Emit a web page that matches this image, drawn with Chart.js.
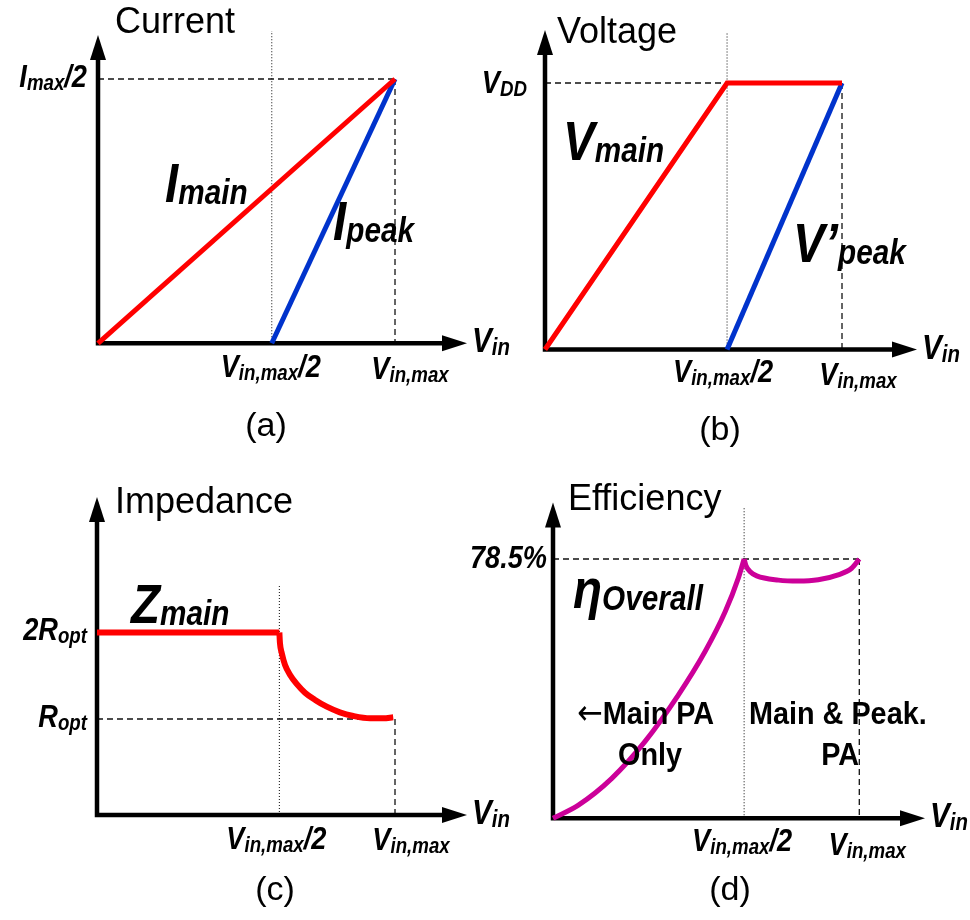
<!DOCTYPE html>
<html>
<head>
<meta charset="utf-8">
<title>Doherty PA operation</title>
<script src="https://cdn.jsdelivr.net/npm/chart.js@4.4.1/dist/chart.umd.min.js"></script>
<style>
  html, body { margin: 0; padding: 0; background: #fff; }
  #wrap { position: relative; width: 970px; height: 920px; }
  #wrap canvas { position: absolute; left: 0; top: 0; }
</style>
</head>
<body>
<div id="wrap">
  <canvas id="chartA" width="970" height="920"></canvas>
  <canvas id="chartB" width="970" height="920"></canvas>
  <canvas id="chartC" width="970" height="920"></canvas>
  <canvas id="chartD" width="970" height="920"></canvas>
</div>
<script>
// ---------- data (x in units of Vin,max) ----------
// (a) current
const vinTicksA = [0.585, 1];
const curTicksA = [1];                       // Imax/2
const iMainX = [0, 1],     iMainY = [0, 1];
const iPeakX = [0.585, 1], iPeakY = [0, 1];

// (b) voltage
const vinTicksB = [0.613, 1];
const voltTicksB = [1];                      // VDD
const vMainX = [0, 0.613, 1], vMainY = [0, 1, 1];
const vPeakX = [0.613, 1],    vPeakY = [0, 1];

// (c) impedance (units of Ropt)
const vinTicksC = [0.612, 1];
const impTicksC = [2, 1];
const zFlatX = [0, 0.612], zFlatY = [2, 2];
const zDropX = [0.612, 0.614, 0.620, 0.631, 0.648, 0.670, 0.698, 0.732, 0.771, 0.815, 0.860, 0.916, 0.961, 0.994];
const zDropY = [2.0, 1.875, 1.760, 1.624, 1.509, 1.405, 1.304, 1.220, 1.142, 1.077, 1.035, 1.008, 1.008, 1.020];

// (d) efficiency (%)
const vinTicksD = [0.624, 1];
const effTicksD = [78.5];
const effLowX  = [0, 0.083, 0.192, 0.300, 0.409, 0.496, 0.562, 0.605, 0.624];
const effLowY  = [0, 4.0, 12.1, 23.2, 37.3, 50.4, 62.5, 72.7, 78.5];
const effHighX = [0.624, 0.630, 0.643, 0.665, 0.736, 0.801, 0.866, 0.931, 0.975, 1.0];
const effHighY = [78.5, 76.5, 74.7, 73.4, 72.1, 71.8, 72.2, 73.7, 75.7, 78.5];

// tick label text ( _{..} = subscript, ^{..} = light symbol )
const vinTickLabels = ['V_{in,max}/2', 'V_{in,max}'];
const curTickLabels = ['I_{max}/2'];
const voltTickLabels = ['V_{DD}'];
const impTickLabels = ['2R_{opt}', 'R_{opt}'];
const effTickLabels = ['78.5%'];

// ---------- helpers ----------
const FAMILY = '"Liberation Sans", Arial, Helvetica, sans-serif';
const pts = (xs, ys) => xs.map((x, i) => ({ x, y: ys[i] }));

function parseRich(s) {
  const parts = [];
  const re = /(_|\^)\{([^}]*)\}/g;
  let last = 0, m;
  while ((m = re.exec(s))) {
    if (m.index > last) parts.push({ t: s.slice(last, m.index), kind: 'main' });
    parts.push({ t: m[2], kind: m[1] === '_' ? 'sub' : 'light' });
    last = re.lastIndex;
  }
  if (last < s.length) parts.push({ t: s.slice(last), kind: 'main' });
  return parts;
}

function fontFor(st, kind) {
  if (kind === 'sub') return `${st.style} ${st.weight} ${st.sub}px ${FAMILY}`;
  if (kind === 'light') return `normal normal ${st.size + 2}px "DejaVu Sans", ${FAMILY}`;
  return `${st.style} ${st.weight} ${st.size}px ${FAMILY}`;
}

function drawRich(ctx, s, x, y, st, align) {
  const parts = parseRich(s);
  let w = 0;
  parts.forEach(p => { ctx.font = fontFor(st, p.kind); p.w = ctx.measureText(p.t).width; w += p.w; });
  const sx = st.sx || 1;
  const total = w * sx;
  let left = x;
  if (align === 'right') left = x - total;
  else if (align === 'center') left = x - total / 2;
  ctx.save();
  ctx.translate(left, y);
  ctx.scale(sx, 1);
  ctx.fillStyle = '#000';
  ctx.textBaseline = 'alphabetic';
  ctx.textAlign = 'left';
  let cx = 0;
  parts.forEach(p => {
    ctx.font = fontFor(st, p.kind);
    ctx.fillText(p.t, cx, p.kind === 'sub' ? st.subDy : 0);
    cx += p.w;
  });
  ctx.restore();
}

const ST = {
  tick:  { size: 32, sub: 22, style: 'italic', weight: 'bold', sx: 0.85, subDy: 3 },
  axis:  { size: 35, sub: 24, style: 'italic', weight: 'bold', sx: 0.85, subDy: 3 },
  big:   { size: 56, sub: 35, style: 'italic', weight: 'bold', sx: 0.85, subDy: 2 },
  title: { size: 36, sub: 24, style: 'normal', weight: 'normal', sx: 1, subDy: 0 },
  cap:   { size: 34, sub: 24, style: 'normal', weight: 'normal', sx: 1, subDy: 0 },
  note:  { size: 32, sub: 22, style: 'normal', weight: 'bold', sx: 0.9, subDy: 0 }
};

// Axes with arrows, guide lines and all text are drawn by this plugin
const schematic = {
  id: 'schematic',
  beforeDatasetsDraw(chart, args, o) {
    const ctx = chart.ctx, xs = chart.scales.x, ys = chart.scales.y, ca = chart.chartArea;
    ctx.save();
    // guides
    (o.guides || []).forEach(g => {
      ctx.beginPath();
      ctx.setLineDash(g.kind === 'dot' ? [1, 2] : [6, 4]);
      ctx.lineWidth = g.kind === 'dot' ? 1.1 : 1.3;
      ctx.strokeStyle = g.kind === 'dot' ? '#222' : '#111';
      ctx.moveTo(xs.getPixelForValue(g.x[0]), ys.getPixelForValue(g.y[0]));
      ctx.lineTo(xs.getPixelForValue(g.x[1]), ys.getPixelForValue(g.y[1]));
      ctx.stroke();
    });
    ctx.setLineDash([]);
    // axes
    const aw = 4.5, al = 25, ah = 8;
    ctx.strokeStyle = '#000';
    ctx.fillStyle = '#000';
    ctx.lineWidth = aw;
    ctx.beginPath();
    ctx.moveTo(ca.left, ca.bottom + aw / 2);
    ctx.lineTo(ca.left, ca.top + al - 1);
    ctx.moveTo(ca.left - aw / 2, ca.bottom);
    ctx.lineTo(ca.right - al + 1, ca.bottom);
    ctx.stroke();
    ctx.beginPath();
    ctx.moveTo(ca.left, ca.top);
    ctx.lineTo(ca.left - ah, ca.top + al);
    ctx.lineTo(ca.left + ah, ca.top + al);
    ctx.closePath();
    ctx.fill();
    ctx.beginPath();
    ctx.moveTo(ca.right, ca.bottom);
    ctx.lineTo(ca.right - al, ca.bottom - ah);
    ctx.lineTo(ca.right - al, ca.bottom + ah);
    ctx.closePath();
    ctx.fill();
    ctx.restore();
  },
  afterDatasetsDraw(chart, args, o) {
    const ctx = chart.ctx, xs = chart.scales.x, ys = chart.scales.y, ca = chart.chartArea;
    // x tick labels
    o.xTicks.forEach((v, i) => {
      const off = o.xTickOffset[i];
      drawRich(ctx, o.xTickLabels[i], xs.getPixelForValue(v) + off[0], ca.bottom + off[1], ST.tick, 'center');
    });
    // y tick labels
    o.yTicks.forEach((v, i) => {
      drawRich(ctx, o.yTickLabels[i], ca.left - o.yGap, ys.getPixelForValue(v) + o.yDrop, ST.tick, 'right');
    });
    // axis name
    drawRich(ctx, 'V_{in}', ca.right + 5, ca.bottom + 9, ST.axis, 'left');
    // free labels
    (o.texts || []).forEach(t => drawRich(ctx, t.s, t.x, t.y, ST[t.st], t.align || 'left'));
  }
};

function makeChart(id, pad, xr, yr, datasets, opts) {
  return new Chart(document.getElementById(id), {
    type: 'line',
    data: { datasets },
    options: {
      responsive: false,
      animation: false,
      events: [],
      layout: { padding: { left: pad[0], top: pad[1], right: 970 - pad[2], bottom: 920 - pad[3] } },
      scales: {
        x: { type: 'linear', display: false, min: xr[0], max: xr[1] },
        y: { type: 'linear', display: false, min: yr[0], max: yr[1] }
      },
      elements: { point: { radius: 0 } },
      plugins: { legend: { display: false }, tooltip: { enabled: false }, schematic: opts }
    },
    plugins: [schematic]
  });
}

function line(xs, ys, color, width, curved) {
  return {
    data: pts(xs, ys), borderColor: color, borderWidth: width, fill: false,
    clip: false, pointRadius: 0, borderJoinStyle: curved ? 'round' : 'miter', borderCapStyle: 'butt',
    tension: 0, cubicInterpolationMode: curved ? 'monotone' : 'default'
  };
}

const RED = '#FF0000', BLUE = '#0033CC', MAGENTA = '#CC0099';

// (a) Current
makeChart('chartA', [98, 35, 467, 343.3], [0, 1.2424], [0, 1.1665], [
  line(iMainX, iMainY, RED, 5),
  line(iPeakX, iPeakY, BLUE, 5)
], {
  guides: [
    { kind: 'dot', x: [vinTicksA[0], vinTicksA[0]], y: [0, 1.182] },
    { kind: 'dash', x: [0, 1], y: [1, 1] },
    { kind: 'dash', x: [1, 1], y: [1, 0] }
  ],
  xTicks: vinTicksA, xTickLabels: vinTickLabels, xTickOffset: [[-1, 34], [15, 36]],
  yTicks: curTicksA, yTickLabels: curTickLabels, yGap: 11, yDrop: 8,
  texts: [
    { s: 'Current', x: 115, y: 33, st: 'title' },
    { s: 'I_{main}', x: 165, y: 202, st: 'big' },
    { s: 'I_{peak}', x: 333, y: 240, st: 'big' },
    { s: '(a)', x: 266, y: 436, st: 'cap', align: 'center' }
  ]
});

// (b) Voltage
makeChart('chartB', [545, 30, 917, 349.5], [0, 1.2525], [0, 1.1989], [
  line(vMainX, vMainY, RED, 5),
  line(vPeakX, vPeakY, BLUE, 5)
], {
  guides: [
    { kind: 'dot', x: [vinTicksB[0], vinTicksB[0]], y: [0, 1.187] },
    { kind: 'dash', x: [0, 1], y: [1, 1] },
    { kind: 'dash', x: [1, 1], y: [1, 0] }
  ],
  xTicks: vinTicksB, xTickLabels: vinTickLabels, xTickOffset: [[-4, 32], [16, 35]],
  yTicks: voltTicksB, yTickLabels: voltTickLabels, yGap: 18, yDrop: 10,
  texts: [
    { s: 'Voltage', x: 557, y: 43, st: 'title' },
    { s: 'V_{main}', x: 563, y: 160, st: 'big' },
    { s: 'V’_{peak}', x: 793, y: 262, st: 'big' },
    { s: '(b)', x: 720, y: 440, st: 'cap', align: 'center' }
  ]
});

// (c) Impedance
makeChart('chartC', [97, 497, 467, 815], [0, 1.2416], [-0.11, 3.566], [
  line(zFlatX, zFlatY, RED, 6),
  line(zDropX, zDropY, RED, 6, true)
], {
  guides: [
    { kind: 'dot', x: [vinTicksC[0], vinTicksC[0]], y: [-0.11, 2.561] },
    { kind: 'dash', x: [0, 1], y: [1, 1] },
    { kind: 'dash', x: [1, 1], y: [1, -0.11] }
  ],
  xTicks: vinTicksC, xTickLabels: vinTickLabels, xTickOffset: [[-3, 34], [16, 35]],
  yTicks: impTicksC, yTickLabels: impTickLabels, yGap: 10, yDrop: 8,
  texts: [
    { s: 'Impedance', x: 115, y: 513, st: 'title' },
    { s: 'Z_{main}', x: 131, y: 623, st: 'big' },
    { s: '(c)', x: 275, y: 900, st: 'cap', align: 'center' }
  ]
});

// (d) Efficiency
makeChart('chartD', [553, 502.5, 925, 818.3], [0, 1.2145], [0, 95.6], [
  line(effLowX, effLowY, MAGENTA, 5, true),
  line(effHighX, effHighY, MAGENTA, 5, true)
], {
  guides: [
    { kind: 'dot', x: [vinTicksD[0], vinTicksD[0]], y: [0, 94.2] },
    { kind: 'dash', x: [0, 1], y: [78.5, 78.5] },
    { kind: 'dash', x: [1, 1], y: [78.5, 0] }
  ],
  xTicks: vinTicksD, xTickLabels: vinTickLabels, xTickOffset: [[-2, 33], [8, 37]],
  yTicks: effTicksD, yTickLabels: effTickLabels, yGap: 6, yDrop: 9,
  texts: [
    { s: 'Efficiency', x: 568, y: 510, st: 'title' },
    { s: 'η_{Overall}', x: 573, y: 608, st: 'big' },
    { s: '^{←}Main PA', x: 577, y: 724, st: 'note' },
    { s: 'Only', x: 618, y: 765, st: 'note' },
    { s: 'Main & Peak.', x: 749, y: 724, st: 'note' },
    { s: 'PA', x: 859, y: 765, st: 'note', align: 'right' },
    { s: '(d)', x: 730, y: 900, st: 'cap', align: 'center' }
  ]
});
</script>
</body>
</html>
